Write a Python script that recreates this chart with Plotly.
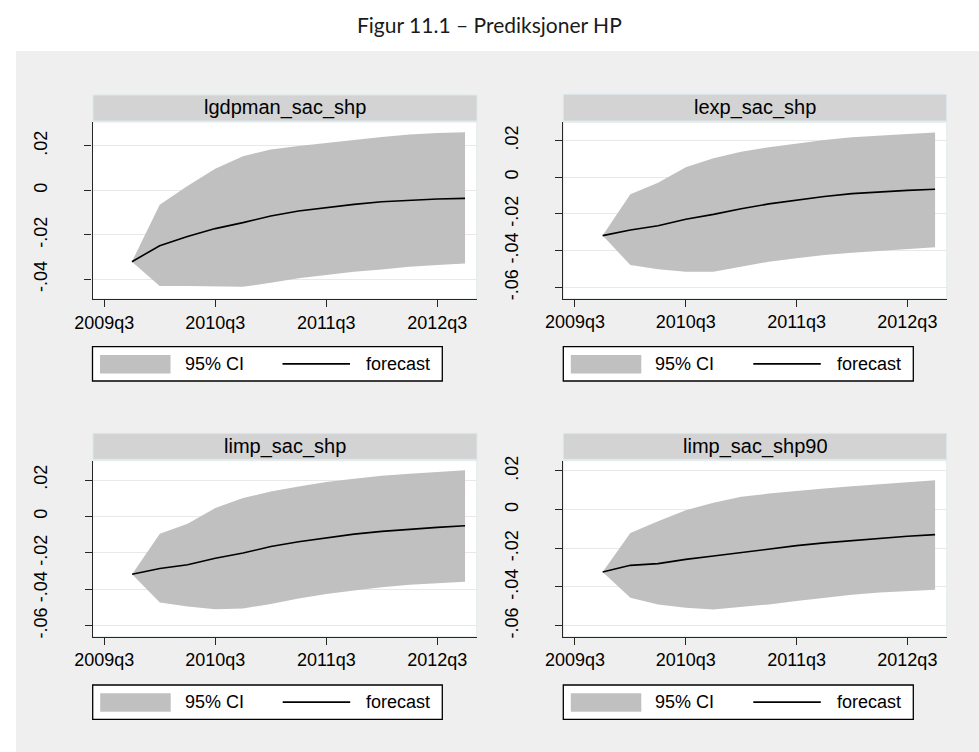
import plotly.graph_objects as go

# ---------------- data ----------------
quarters = ["2009q4", "2010q1", "2010q2", "2010q3", "2010q4", "2011q1", "2011q2",
            "2011q3", "2011q4", "2012q1", "2012q2", "2012q3", "2012q4"]
xtick_labels = ["2009q3", "2010q3", "2011q3", "2012q3"]
ytick_vals = [-0.06, -0.04, -0.02, 0.0, 0.02]
ytick_text = ["-.06", "-.04", "-.02", "0", ".02"]

panel_names = ["lgdpman_sac_shp", "lexp_sac_shp", "limp_sac_shp", "limp_sac_shp90"]

fc1 = [-0.0321, -0.0249, -0.0208, -0.0172, -0.0145, -0.0115, -0.0093, -0.0077, -0.0063, -0.0051, -0.0044, -0.0039, -0.0036]
hi1 = [-0.0321, -0.0065, 0.0020, 0.0098, 0.0154, 0.0184, 0.0200, 0.0214, 0.0229, 0.0241, 0.0252, 0.0259, 0.0262]
lo1 = [-0.0321, -0.0430, -0.0431, -0.0434, -0.0434, -0.0416, -0.0396, -0.0381, -0.0366, -0.0356, -0.0344, -0.0336, -0.0329]

fc2 = [-0.0318, -0.0287, -0.0264, -0.0229, -0.0202, -0.0171, -0.0145, -0.0124, -0.0105, -0.0089, -0.0078, -0.0071, -0.0065]
hi2 = [-0.0318, -0.0093, -0.0029, 0.0055, 0.0104, 0.0140, 0.0164, 0.0185, 0.0204, 0.0218, 0.0229, 0.0236, 0.0245]
lo2 = [-0.0318, -0.0478, -0.0502, -0.0515, -0.0515, -0.0487, -0.0460, -0.0442, -0.0424, -0.0411, -0.0400, -0.0391, -0.0382]

fc3 = [-0.0317, -0.0286, -0.0265, -0.0229, -0.0201, -0.0165, -0.0139, -0.0117, -0.0097, -0.0082, -0.0070, -0.0060, -0.0051]
hi3 = [-0.0317, -0.0095, -0.0040, 0.0046, 0.0101, 0.0137, 0.0165, 0.0189, 0.0207, 0.0223, 0.0234, 0.0245, 0.0253]
lo3 = [-0.0317, -0.0472, -0.0494, -0.0509, -0.0505, -0.0480, -0.0450, -0.0425, -0.0406, -0.0388, -0.0375, -0.0366, -0.0359]

fc4 = [-0.0322, -0.0288, -0.0279, -0.0257, -0.0240, -0.0221, -0.0205, -0.0186, -0.0172, -0.0160, -0.0148, -0.0138, -0.0129]
hi4 = [-0.0322, -0.0121, -0.0060, -0.0003, 0.0036, 0.0066, 0.0083, 0.0097, 0.0109, 0.0121, 0.0131, 0.0141, 0.0152]
lo4 = [-0.0322, -0.0455, -0.0491, -0.0507, -0.0516, -0.0503, -0.0490, -0.0472, -0.0455, -0.0440, -0.0429, -0.0421, -0.0414]

forecasts = [fc1, fc2, fc3, fc4]
uppers = [hi1, hi2, hi3, hi4]
lowers = [lo1, lo2, lo3, lo4]


def qindex(q):
    y, n = q.split("q")
    return (int(y) - 2009) * 4 + int(n) - 3


xs = [qindex(q) for q in quarters]
xtick_vals = [qindex(q) for q in xtick_labels]

# ---------------- layout geometry (pixels) ----------------
W, H = 979, 752


def fx(x):
    return x / W


def fy(y):
    return 1 - y / H


FONT = "Liberation Sans, Arial, sans-serif"
CI_COLOR = "#c0c0c0"
AX_COLOR = "#262626"

# plot-area boxes: (left, right, top, bottom) in px
boxes = [(92.5, 476.7, 122.0, 299.0),
         (563.3, 946.7, 122.3, 298.7),
         (92.7, 476.7, 460.7, 636.7),
         (563.3, 946.7, 460.7, 636.7)]
yranges = [[-0.0489, 0.0308], [-0.0662, 0.0300], [-0.0660, 0.0306], [-0.0657, 0.0253]]
headers = [(93, 477, 95, 121), (563.3, 946.7, 94.3, 121), (93, 477, 433.3, 459.3), (563.3, 946.7, 433.3, 459.3)]
legend_boxes = [(92.5, 442.3, 346.7, 381), (563.3, 913.3, 346.7, 381),
                (92.7, 442.3, 685, 719.3), (563.3, 913.3, 685, 719.3)]

fig = go.Figure()
shapes = []
annotations = []

# outer gray background
shapes.append(dict(type="rect", xref="paper", yref="paper", x0=fx(16), x1=fx(979), y0=fy(752), y1=fy(51),
                   fillcolor="#efefef", line=dict(width=0), layer="below"))

for i in range(4):
    ax = "" if i == 0 else str(i + 1)
    xa, ya = "x" + ax, "y" + ax
    l, r, t, b = boxes[i]
    fig.add_trace(go.Scatter(x=xs, y=lowers[i], mode="lines", line=dict(width=0, color=CI_COLOR),
                             showlegend=False, hoverinfo="skip", xaxis=xa, yaxis=ya))
    fig.add_trace(go.Scatter(x=xs, y=uppers[i], mode="lines", line=dict(width=0, color=CI_COLOR),
                             fill="tonexty", fillcolor=CI_COLOR, showlegend=False, hoverinfo="skip",
                             xaxis=xa, yaxis=ya))
    fig.add_trace(go.Scatter(x=xs, y=forecasts[i], mode="lines", line=dict(width=1.6, color="black"),
                             showlegend=False, xaxis=xa, yaxis=ya))

    common = dict(showline=True, linecolor=AX_COLOR, linewidth=1.3, ticks="outside", ticklen=7,
                  tickwidth=1.3, tickcolor=AX_COLOR, zeroline=False, mirror=False, automargin=False,
                  tickfont=dict(family=FONT, size=18, color="black"))
    fig.layout["xaxis" + ax] = dict(domain=[fx(l), fx(r)], anchor=ya, range=[-0.42, 13.42],
                                   tickmode="array", tickvals=xtick_vals, ticktext=xtick_labels,
                                   showgrid=False, **common)
    fig.layout["yaxis" + ax] = dict(domain=[fy(b), fy(t)], anchor=xa, range=yranges[i],
                                   tickmode="array", tickvals=ytick_vals, ticktext=ytick_text,
                                   tickangle=-90, showgrid=True, gridcolor="#e8e8e8", gridwidth=1.3,
                                   ticklabelstandoff=30, **common)

    # plot area white background
    shapes.append(dict(type="rect", xref="paper", yref="paper", x0=fx(l), x1=fx(r), y0=fy(b), y1=fy(t),
                       fillcolor="white", line=dict(width=1, color="#e4eaec"), layer="below"))

    # strip header
    hx0, hx1, hy0, hy1 = headers[i]
    shapes.append(dict(type="rect", xref="paper", yref="paper", x0=fx(hx0), x1=fx(hx1), y0=fy(hy1), y1=fy(hy0),
                       fillcolor="#d3d3d3", line=dict(width=1, color="#dde8ec"), layer="below"))
    annotations.append(dict(text=panel_names[i], xref="paper", yref="paper", x=fx((hx0 + hx1) / 2),
                            y=fy((hy0 + hy1) / 2), xanchor="center", yanchor="middle", showarrow=False,
                            font=dict(family=FONT, size=20, color="black")))

    # legend
    lx0, lx1, ly0, ly1 = legend_boxes[i]
    ym = (ly0 + ly1) / 2
    shapes.append(dict(type="rect", xref="paper", yref="paper", x0=fx(lx0), x1=fx(lx1), y0=fy(ly1), y1=fy(ly0),
                       fillcolor="white", line=dict(width=1.3, color="black"), layer="below"))
    shapes.append(dict(type="rect", xref="paper", yref="paper", x0=fx(lx0 + 7.5), x1=fx(lx0 + 78),
                       y0=fy(ly0 + 26.7), y1=fy(ly0 + 8.3), fillcolor=CI_COLOR, line=dict(width=0)))
    shapes.append(dict(type="line", xref="paper", yref="paper", x0=fx(lx0 + 190), x1=fx(lx0 + 257.5),
                       y0=fy(ym), y1=fy(ym), line=dict(width=1.6, color="black")))
    annotations.append(dict(text="95% CI", xref="paper", yref="paper", x=fx(lx0 + 90), y=fy(ym),
                            xanchor="left", yanchor="middle", showarrow=False,
                            font=dict(family=FONT, size=18, color="black")))
    annotations.append(dict(text="forecast", xref="paper", yref="paper", x=fx(lx0 + 271.5), y=fy(ym),
                            xanchor="left", yanchor="middle", showarrow=False,
                            font=dict(family=FONT, size=18, color="black")))

annotations.append(dict(text="Figur 11.1 – Prediksjoner HP", xref="paper", yref="paper", x=fx(490), y=fy(25),
                        xanchor="center", yanchor="middle", showarrow=False,
                        font=dict(family="Lato, Carlito, sans-serif", size=21, color="#1a1a1a")))

fig.update_layout(width=W, height=H, margin=dict(l=0, r=0, t=0, b=0, autoexpand=False),
                  paper_bgcolor="white", plot_bgcolor="rgba(0,0,0,0)",
                  shapes=shapes, annotations=annotations, showlegend=False)

fig.write_html("out.html")
